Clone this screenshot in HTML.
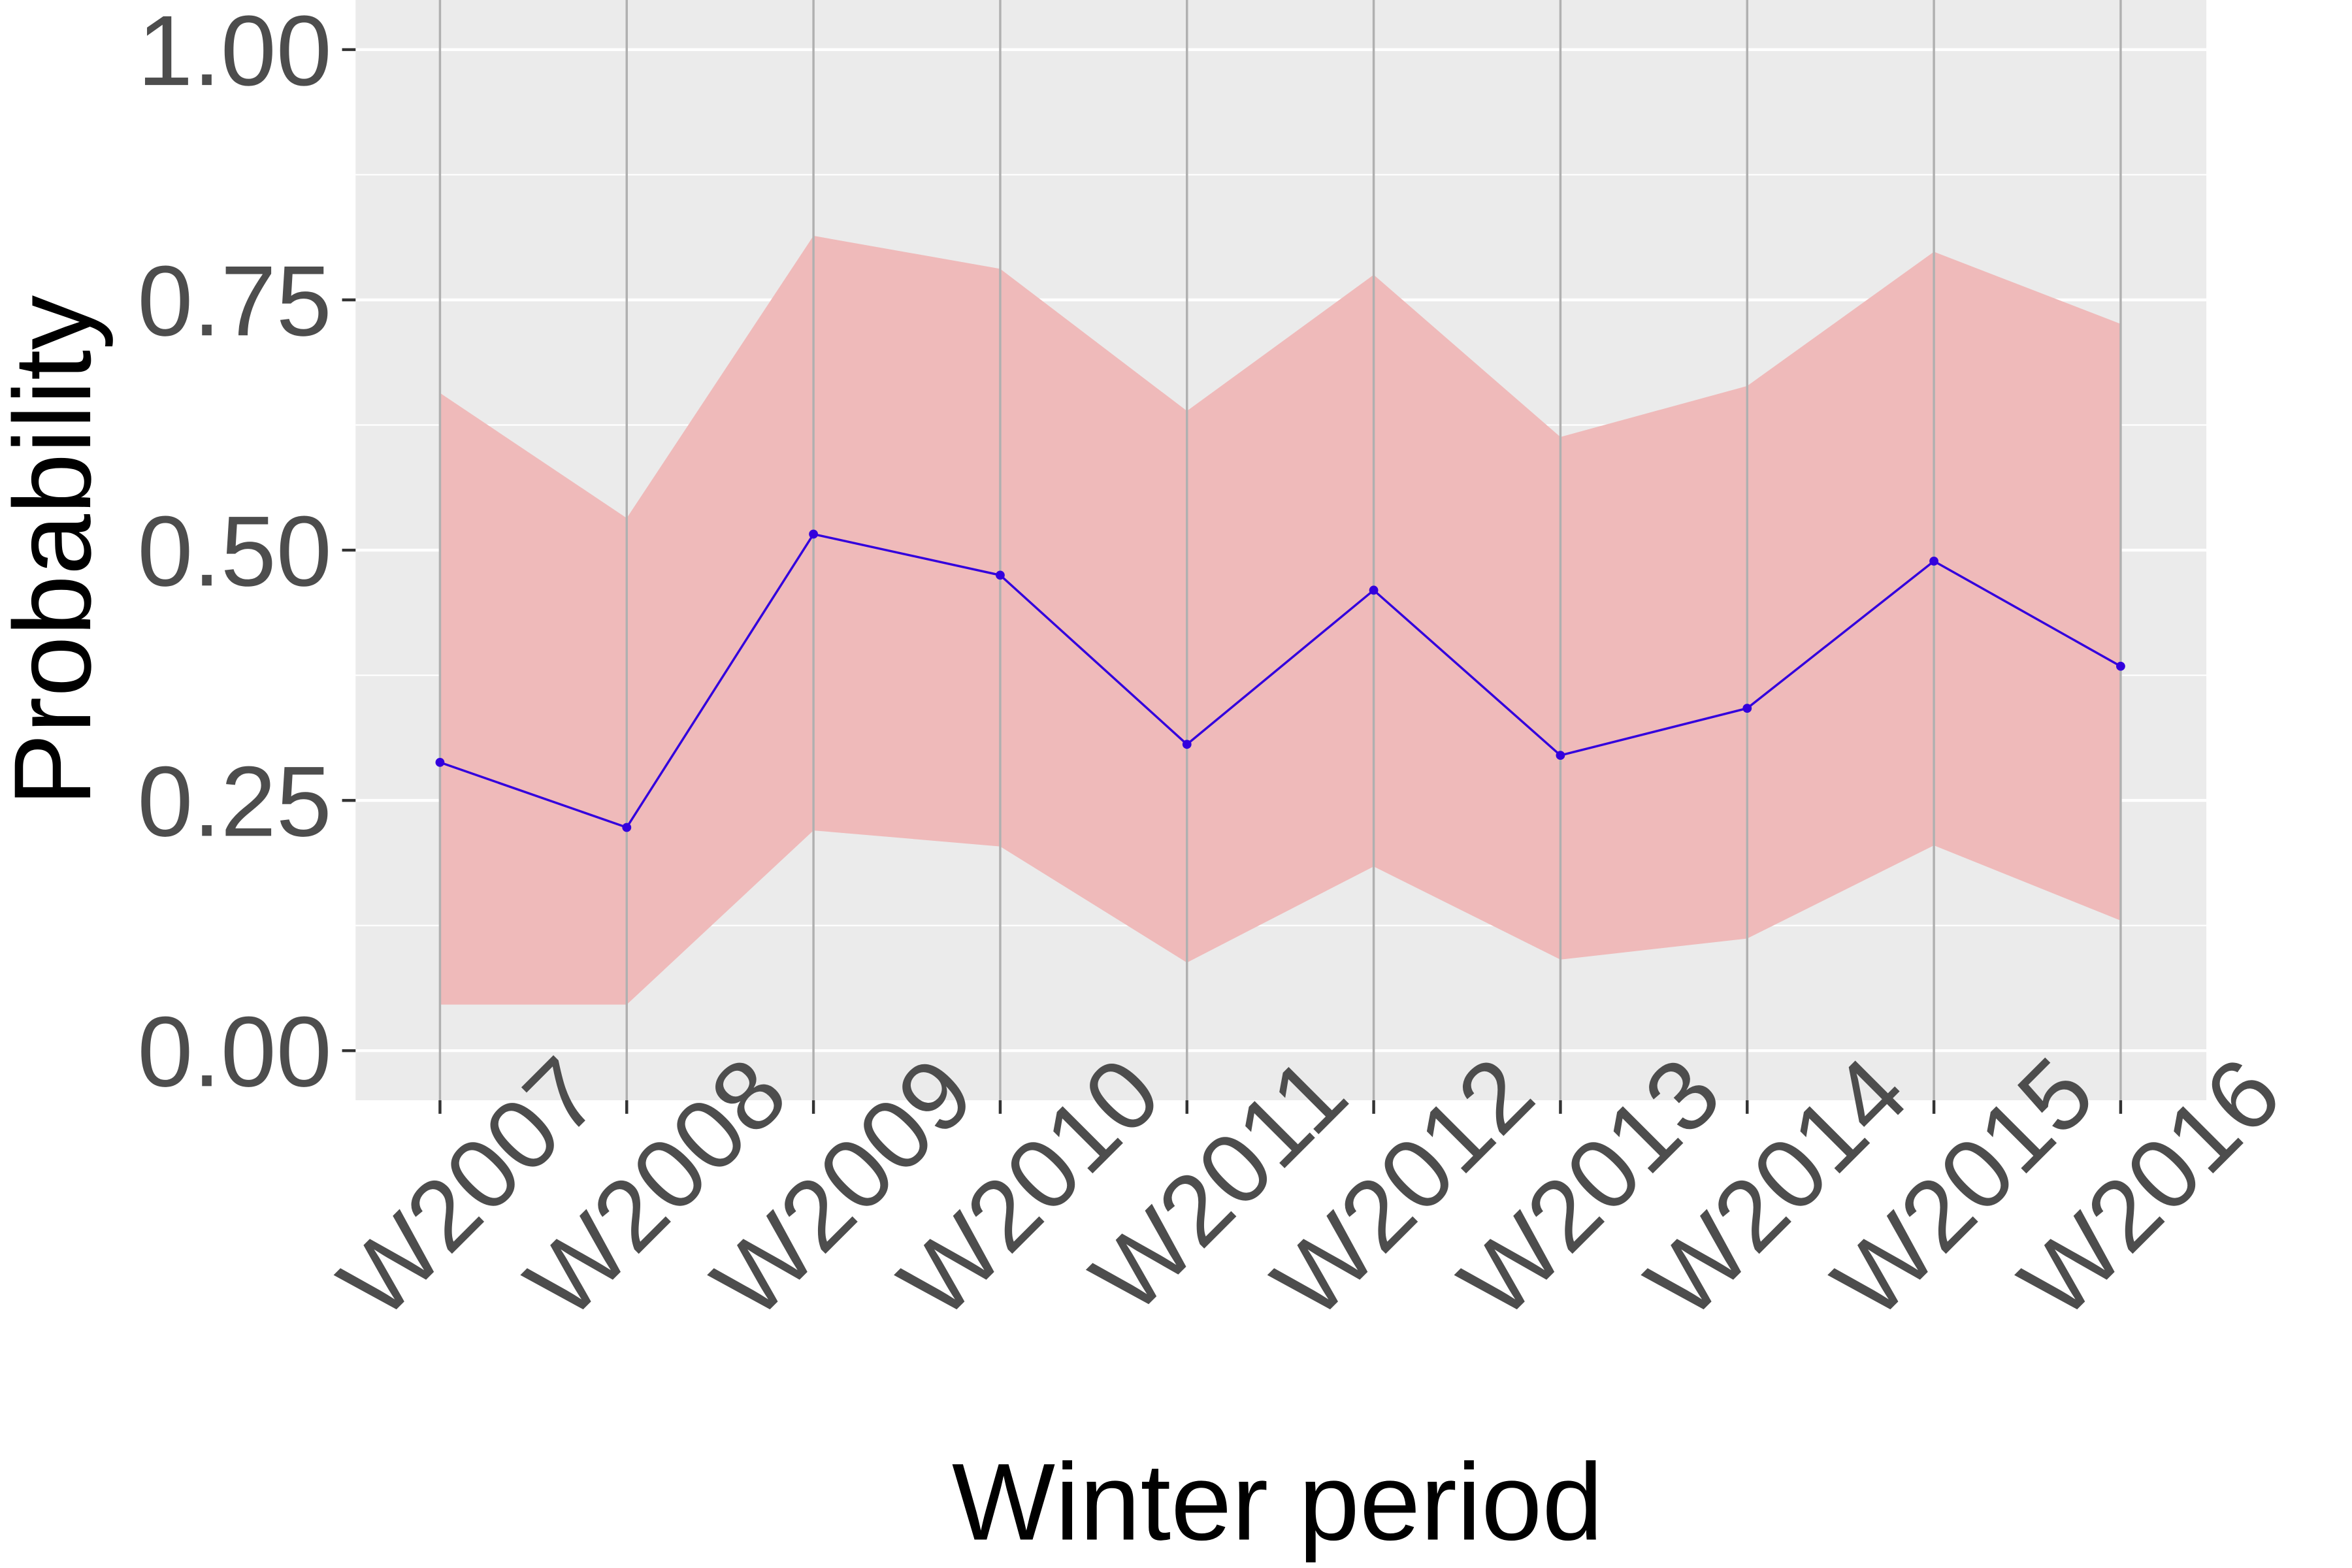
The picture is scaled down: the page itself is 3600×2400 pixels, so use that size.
<!DOCTYPE html>
<html><head><meta charset="utf-8"><style>
html,body{margin:0;padding:0;background:#fff;}
svg{display:block;font-family:"Liberation Sans",sans-serif;}
</style></head><body>
<svg id="chart" width="3600" height="2400" viewBox="0 0 3600 2400" xmlns="http://www.w3.org/2000/svg">
<rect x="0" y="0" width="3600" height="2400" fill="#fff"/>
<g transform="scale(0.986)">
<rect x="552" y="0" width="2873" height="1708" fill="#ebebeb"/>
<g id="grid"></g>
<g id="ribbon"></g>
<g id="vlines"></g>
<g id="series"></g>
<g id="yaxis"></g>
<g id="xaxis"></g>
<text x="1983" y="2390" font-size="170" text-anchor="middle" fill="#000">Winter period</text>
<text transform="translate(140,855) rotate(-90)" font-size="170" text-anchor="middle" fill="#000">Probability</text>
</g>
</svg>
<script>
const categories = ["W2007","W2008","W2009","W2010","W2011","W2012","W2013","W2014","W2015","W2016"];
const meanValues = [0.288,0.223,0.516,0.475,0.306,0.460,0.295,0.342,0.489,0.384];
const upperValues = [0.657,0.532,0.814,0.781,0.639,0.775,0.613,0.664,0.798,0.726];
const lowerValues = [0.046,0.046,0.220,0.204,0.088,0.184,0.091,0.112,0.205,0.130];
const yTicks = [0,0.25,0.5,0.75,1];
const yTickLabels = ["0.00","0.25","0.50","0.75","1.00"];

const NS = "http://www.w3.org/2000/svg";
const x0 = 683, x1 = 3292, yTop = 77, yBot = 1631;
function xs(i){ return x0 + i*(x1-x0)/(categories.length-1); }
function ys(v){ return yBot - v*(yBot-yTop); }
function mk(tag, attrs, parent){
  const e = document.createElementNS(NS, tag);
  for (const k in attrs) e.setAttribute(k, attrs[k]);
  document.getElementById(parent).appendChild(e);
  return e;
}
for (let k=0;k<yTicks.length;k++){
  const g = mk("line",{x1:552,x2:3425,y1:ys(yTicks[k]),y2:ys(yTicks[k]),stroke:"#fff","stroke-width":4.5},"grid");
  
  
  if (k<yTicks.length-1){
    const m = mk("line",{x1:552,x2:3425,y1:ys((yTicks[k]+yTicks[k+1])/2),y2:ys((yTicks[k]+yTicks[k+1])/2),stroke:"#fff","stroke-width":2.2},"grid");
    
    
  }
}
let pts = [];
for (let i=0;i<categories.length;i++) pts.push(xs(i)+","+ys(upperValues[i]));
for (let i=categories.length-1;i>=0;i--) pts.push(xs(i)+","+ys(lowerValues[i]));
const rib = mk("polygon",{points:pts.join(" "),fill:"#efbaba"},"ribbon");


for (let i=0;i<categories.length;i++){
  const v = mk("line",{x1:xs(i),x2:xs(i),y1:0,y2:1708,stroke:"#b0b0b0","stroke-width":3.5},"vlines");
  
  
}
const lp = categories.map((c,i)=>xs(i)+","+ys(meanValues[i])).join(" ");
const pl = mk("polyline",{points:lp,fill:"none",stroke:"#3300dd","stroke-width":3.5},"series");


for (let i=0;i<categories.length;i++){
  const c = mk("circle",{cx:xs(i),cy:ys(meanValues[i]),r:7,fill:"#3300dd"},"series");
  
  
}
for (let k=0;k<yTicks.length;k++){
  const t = mk("line",{x1:531,x2:552,y1:ys(yTicks[k]),y2:ys(yTicks[k]),stroke:"#333","stroke-width":4.5},"yaxis");
  
  
  const l = mk("text",{x:515,y:ys(yTicks[k])+55,"font-size":155,"text-anchor":"end",fill:"#4d4d4d"},"yaxis");
  l.textContent = yTickLabels[k];
  
  
}
for (let i=0;i<categories.length;i++){
  const t = mk("line",{x1:xs(i),x2:xs(i),y1:1708,y2:1729,stroke:"#333","stroke-width":4.5},"xaxis");
  
  
  const tx = xs(i)+257, ty = 1708;
  const l = mk("text",{x:tx,y:ty,"font-size":155,"text-anchor":"end",fill:"#4d4d4d",transform:"rotate(-45 "+tx+" "+ty+")"},"xaxis");
  l.textContent = categories[i];
  
  
}
</script>
</body></html>
